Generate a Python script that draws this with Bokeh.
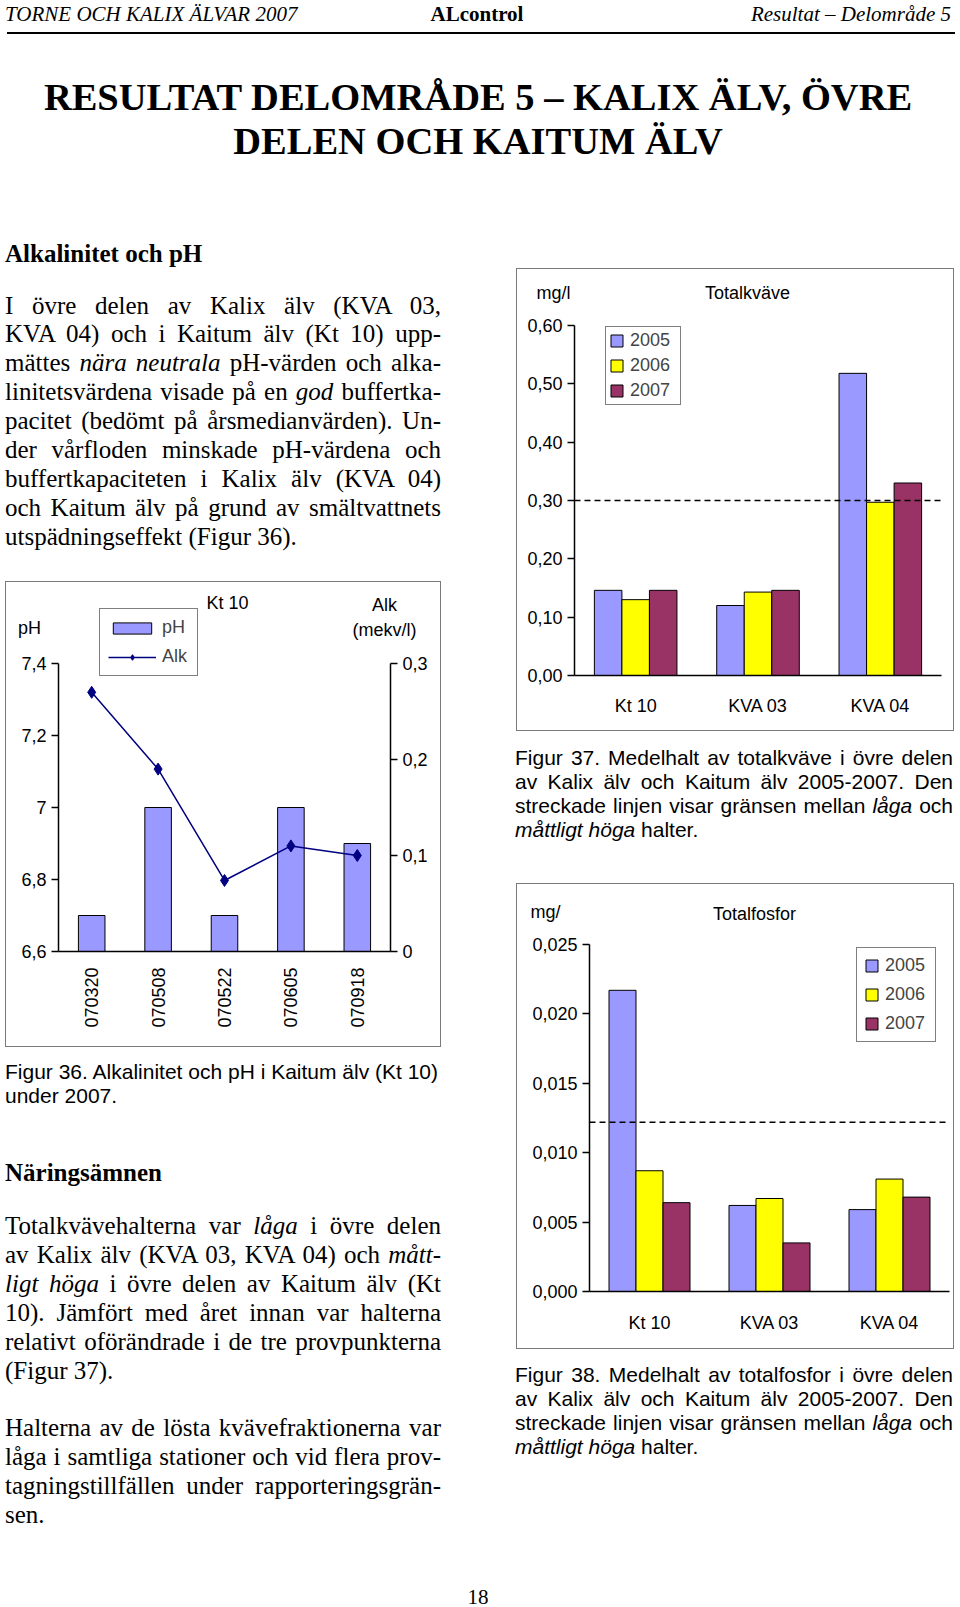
import math
from bokeh.plotting import figure
from bokeh.models import (Range1d, LinearAxis, FixedTicker, CustomJSTickFormatter,
                          Legend, LegendItem, Label, Div, ColumnDataSource, Spacer)
from bokeh.layouts import column, row
from bokeh.embed import file_html
from bokeh.resources import INLINE

# ---------------- data ----------------
# Figur 36: Kt 10, 2007
dates = ["070320", "070508", "070522", "070605", "070918"]
ph_values = [6.70, 7.00, 6.70, 7.00, 6.90]
alk_values = [0.270, 0.190, 0.074, 0.110, 0.100]
ph_ticks = [6.6, 6.8, 7.0, 7.2, 7.4]
alk_ticks = [0.0, 0.1, 0.2, 0.3]

# Figur 37 / 38
stations = ["Kt 10", "KVA 03", "KVA 04"]
years = ["2005", "2006", "2007"]
totn_2005 = [0.146, 0.120, 0.518]
totn_2006 = [0.130, 0.143, 0.297]
totn_2007 = [0.146, 0.146, 0.330]
totn_limit = 0.30
totn_ticks = [0.0, 0.1, 0.2, 0.3, 0.4, 0.5, 0.6]

totp_2005 = [0.0217, 0.0062, 0.0059]
totp_2006 = [0.0087, 0.0067, 0.0081]
totp_2007 = [0.0064, 0.0035, 0.0068]
totp_limit = 0.0122
totp_ticks = [0.0, 0.005, 0.010, 0.015, 0.020, 0.025]

year_colors = ["#9999FF", "#FFFF00", "#993366"]
ph_color = "#9999FF"
alk_color = "#000080"

SANS = "Liberation Sans"
SERIF_CSS = "'Liberation Serif', 'Times New Roman', serif"
SANS_CSS = "'Liberation Sans', Arial, sans-serif"
CHART_FS = "18px"
BOX_STYLE = {"outline": "1.5px solid #7a7a7a", "outline-offset": "-1.5px"}

TRIM_CODE = "var s = tick.toFixed(1); if (s.endsWith('.0')) { s = s.slice(0, -2); } return s.replace('.', ',');"


def cat_formatter(names):
    return CustomJSTickFormatter(args=dict(names=names),
                                 code="var i = Math.round(tick - 0.5); return names[i] || '';")


def px_range(v0, p0, v1, p1, size):
    """range so that value v0 sits at pixel p0 and v1 at pixel p1 (pixels from low edge)"""
    per = (p1 - p0) / (v1 - v0)
    return Range1d(v0 - p0 / per, v1 + (size - p1) / per)


def style_axis(ax, tick_out=7, standoff=5):
    ax.axis_line_color = "black"
    ax.axis_line_width = 1.5
    ax.major_tick_line_color = "black" if tick_out else None
    ax.major_tick_line_width = 1.5
    ax.major_tick_out = tick_out
    ax.major_tick_in = 0
    ax.minor_tick_line_color = None
    ax.major_label_text_font = SANS
    ax.major_label_text_font_size = CHART_FS
    ax.major_label_text_color = "black"
    ax.major_label_standoff = standoff


def add_axis(p, side, loc, bounds, ticks, fmt, tick_out=7, standoff=5, range_name=None):
    kw = {"y_range_name": range_name} if range_name else {}
    ax = LinearAxis(fixed_location=loc, bounds=bounds, ticker=FixedTicker(ticks=ticks),
                    formatter=fmt, **kw)
    style_axis(ax, tick_out, standoff)
    p.add_layout(ax, side)
    return ax


def make_fig(w, h, xr, yr):
    p = figure(width=w, height=h, x_range=xr, y_range=yr, x_axis_type=None, y_axis_type=None,
               output_backend="svg", toolbar_location=None, tools="",
               min_border=0, min_border_left=0, min_border_right=0,
               min_border_top=0, min_border_bottom=0)
    p.title.visible = False
    p.xgrid.visible = False
    p.ygrid.visible = False
    p.outline_line_color = None
    p.border_fill_color = None
    p.background_fill_color = None
    p.styles = BOX_STYLE
    return p


def add_label(p, text, x, y_top):
    p.add_layout(Label(x=x, y=p.height - y_top, x_units="screen", y_units="screen", text=text,
                       text_align="center", text_baseline="middle", text_font=SANS,
                       text_font_size=CHART_FS, text_color="black"))


def add_legend(p, items, left, bottom_top, glyph_w, glyph_h, pad, spacing, lw):
    leg = Legend(items=items, location=(left, p.height - bottom_top))
    leg.glyph_width = glyph_w
    leg.glyph_height = glyph_h
    leg.padding = pad
    leg.spacing = spacing
    leg.margin = 0
    leg.label_width = lw
    leg.label_standoff = 6
    leg.label_text_font = SANS
    leg.label_text_font_size = CHART_FS
    leg.border_line_color = "black"
    leg.border_line_width = 1.5
    leg.background_fill_color = "white"
    leg.background_fill_alpha = 1.0
    p.add_layout(leg)


# ---------------- Figur 36 ----------------
W36, H36 = 436, 466
n36 = len(dates)
p36 = make_fig(W36, H36, px_range(0, 53, n36, 385, W36),
               px_range(ph_ticks[0], H36 - 370, ph_ticks[-1], H36 - 82, H36))
p36.extra_y_ranges = {"alk": px_range(alk_ticks[0], H36 - 370, alk_ticks[-1], H36 - 82, H36)}
xc36 = [i + 0.5 for i in range(n36)]
bars36 = p36.vbar(x=xc36, top=ph_values, bottom=ph_ticks[0], width=0.4,
                  fill_color=ph_color, line_color="black", line_width=1)
line36 = p36.line(x=xc36, y=alk_values, y_range_name="alk", line_color=alk_color, line_width=1.5)
pts36 = p36.scatter(x=xc36, y=alk_values, y_range_name="alk", marker="diamond", size=12,
                    fill_color=alk_color, line_color=alk_color)
add_axis(p36, "left", 0, (ph_ticks[0], ph_ticks[-1]), ph_ticks,
         CustomJSTickFormatter(code=TRIM_CODE))
add_axis(p36, "right", n36, (alk_ticks[0], alk_ticks[-1]), alk_ticks,
         CustomJSTickFormatter(code=TRIM_CODE), range_name="alk")
xa36 = add_axis(p36, "below", ph_ticks[0], (0, n36), xc36, cat_formatter(dates),
                tick_out=0, standoff=16)
xa36.major_label_orientation = math.pi / 2
add_label(p36, "Kt 10", 222, 21.5)
add_label(p36, "pH", 24, 46)
add_label(p36, "Alk", 379, 23.5)
add_label(p36, "(mekv/l)", 379, 48)
add_legend(p36, [LegendItem(label="pH", renderers=[bars36]),
                 LegendItem(label="Alk", renderers=[line36, pts36])],
           94, 95, 48, 14, 8, 8, 27)


# ---------------- grouped bar charts ----------------
def grouped(w, h, ticks, fmt_code, v05, v06, v07, limit, ax_x, end_x, y0_top, y1_top,
            unit, title, unit_xy, title_xy, leg_pos, leg_geom, cat_standoff):
    n = len(stations)
    p = make_fig(w, h, px_range(0, ax_x, n, end_x, w),
                 px_range(ticks[0], h - y0_top, ticks[-1], h - y1_top, h))
    src = ColumnDataSource(dict(xc=[i + 0.5 for i in range(n)], y2005=v05, y2006=v06, y2007=v07))
    bw = 0.225
    rs = []
    for k, (col, c) in enumerate(zip(["y2005", "y2006", "y2007"], year_colors)):
        off = (k - 1) * bw
        xs = [x + off for x in src.data["xc"]]
        rs.append(p.vbar(x=xs, top=src.data[col], bottom=ticks[0], width=bw,
                         fill_color=c, line_color="black", line_width=1))
    p.line(x=[0, n], y=[limit, limit], line_color="black", line_width=1.5, line_dash="6 4")
    add_axis(p, "left", 0, (ticks[0], ticks[-1]), ticks,
             CustomJSTickFormatter(code=fmt_code))
    add_axis(p, "below", ticks[0], (0, n), src.data["xc"], cat_formatter(stations),
             tick_out=0, standoff=cat_standoff)
    add_label(p, unit, *unit_xy)
    add_label(p, title, *title_xy)
    add_legend(p, [LegendItem(label=y, renderers=[r]) for y, r in zip(years, rs)],
               *leg_pos, *leg_geom)
    return p


p37 = grouped(438, 463, totn_ticks, "return tick.toFixed(2).replace('.', ',');",
              totn_2005, totn_2006, totn_2007, totn_limit, 58, 425, 407, 57,
              "mg/l", "Totalkväve", (37, 24.5), (231, 24.5),
              (89, 137), (15, 15, 3, 4, 47), 20)
p38 = grouped(438, 466, totp_ticks, "return tick.toFixed(3).replace('.', ',');",
              totp_2005, totp_2006, totp_2007, totp_limit, 73, 433, 408, 61,
              "mg/", "Totalfosfor", (29, 28), (238, 30),
              (340, 159), (15, 15, 7, 8, 43), 21)


# ---------------- text blocks ----------------
def css(family, size, lh, weight="normal", style="normal"):
    return (f"font-family:{family};font-size:{size}px;line-height:{lh}px;font-weight:{weight};"
            f"font-style:{style};color:#000;")


def line(html, top, left, width, style, align="left", justify=False):
    if justify:
        al = "white-space:normal;text-align:justify;text-align-last:justify;"
    else:
        al = f"white-space:nowrap;text-align:{align};"
    return (f'<div style="position:absolute;left:{left}px;top:{top:.1f}px;width:{width}px;'
            f'{al}{style}">{html}</div>')


def block(width, height, parts):
    html = (f'<div style="position:relative;width:{width}px;height:{height}px;">'
            + "".join(parts) + "</div>")
    return Div(text=html, width=width, height=height)


BODY_LH = 29
BODY = css(SERIF_CSS, 25, BODY_LH)
HEAD = css(SERIF_CSS, 25, BODY_LH, weight="bold")
CAP_LH = 24
CAP = css(SANS_CSS, 21, CAP_LH)
HDR = 21


def paragraph(lines_html, first_center, step=28.9, left=0, width=436):
    out = []
    for i, t in enumerate(lines_html):
        last = i == len(lines_html) - 1
        out.append(line(t, first_center + i * step - BODY_LH / 2, left, width, BODY,
                        justify=not last))
    return out


def caption(lines_html, first_center, left, width, n_justified, step=24):
    return [line(t, first_center + i * step - CAP_LH / 2, left, width, CAP,
                 justify=i < n_justified) for i, t in enumerate(lines_html)]


header = block(950, 217, [
    line("TORNE OCH KALIX ÄLVAR 2007", -3, 0, 420, css(SERIF_CSS, HDR, 24, style="italic")),
    line("ALcontrol", -3, 0, 944, css(SERIF_CSS, HDR, 24, weight="bold"), align="center"),
    line("Resultat – Delområde 5", -3, 0, 946, css(SERIF_CSS, HDR, 24, style="italic"),
         align="right"),
    '<div style="position:absolute;left:2px;top:27px;width:948px;height:2px;background:#000;"></div>',
    line("RESULTAT DELOMRÅDE 5 – KALIX ÄLV, ÖVRE", 69, 0, 946,
         css(SERIF_CSS, 38.5, 46, weight="bold"), align="center"),
    line("DELEN OCH KAITUM ÄLV", 113, 0, 946, css(SERIF_CSS, 38.5, 46, weight="bold"),
         align="center"),
])

para1 = [
    "I övre delen av Kalix älv (KVA 03,",
    "KVA 04) och i Kaitum älv (Kt 10) upp-",
    "mättes <i>nära neutrala</i> pH-värden och alka-",
    "linitetsvärdena visade på en <i>god</i> buffertka-",
    "pacitet (bedömt på årsmedianvärden). Un-",
    "der vårfloden minskade pH-värdena och",
    "buffertkapaciteten i Kalix älv (KVA 04)",
    "och Kaitum älv på grund av smältvattnets",
    "utspädningseffekt (Figur 36).",
]
divA = block(441, 344, [line("Alkalinitet och pH", 6.5, 0, 436, HEAD)] + paragraph(para1, 73))

para2 = [
    "Totalkvävehalterna var <i>låga</i> i övre delen",
    "av Kalix älv (KVA 03, KVA 04) och <i>mått-</i>",
    "<i>ligt höga</i> i övre delen av Kaitum älv (Kt",
    "10). Jämfört med året innan var halterna",
    "relativt oförändrade i de tre provpunkterna",
    "(Figur 37).",
]
para3 = [
    "Halterna av de lösta kvävefraktionerna var",
    "låga i samtliga stationer och vid flera prov-",
    "tagningstillfällen under rapporteringsgrän-",
    "sen.",
]
cap36 = ["Figur 36. Alkalinitet och pH i Kaitum älv (Kt 10)", "under 2007."]
divB = block(441, 525,
             caption(cap36, 20, 0, 436, 0)
             + [line("Näringsämnen", 105.5, 0, 436, HEAD)]
             + paragraph(para2, 173, step=29) + paragraph(para3, 375, step=29))

cap37 = ["Figur 37. Medelhalt av totalkväve i övre delen",
         "av Kalix älv och Kaitum älv 2005-2007. Den",
         "streckade linjen visar gränsen mellan <i>låga</i> och",
         "<i>måttligt höga</i> halter."]
cap38 = ["Figur 38. Medelhalt av totalfosfor i övre delen",
         "av Kalix älv och Kaitum älv 2005-2007. Den",
         "streckade linjen visar gränsen mellan <i>låga</i> och",
         "<i>måttligt höga</i> halter."]
div37 = block(438, 142, caption(cap37, 22, -6, 438, 3))
div38 = block(438, 223, caption(cap38, 21, -6, 438, 3))

footer = block(946, 30, [line("18", -2, 0, 946, css(SERIF_CSS, HDR, 24), align="center")])

left_col = column(divA, row(Spacer(width=5, height=10), p36, spacing=0), divB, spacing=0)
right_col = column(Spacer(width=438, height=41), p37, div37, p38, div38, spacing=0)
mid = row(left_col, Spacer(width=65, height=10), right_col, spacing=0)
page = column(header, mid, footer, spacing=0)

open("out.html", "w").write(file_html(page, INLINE, title="Resultat Delområde 5"))
